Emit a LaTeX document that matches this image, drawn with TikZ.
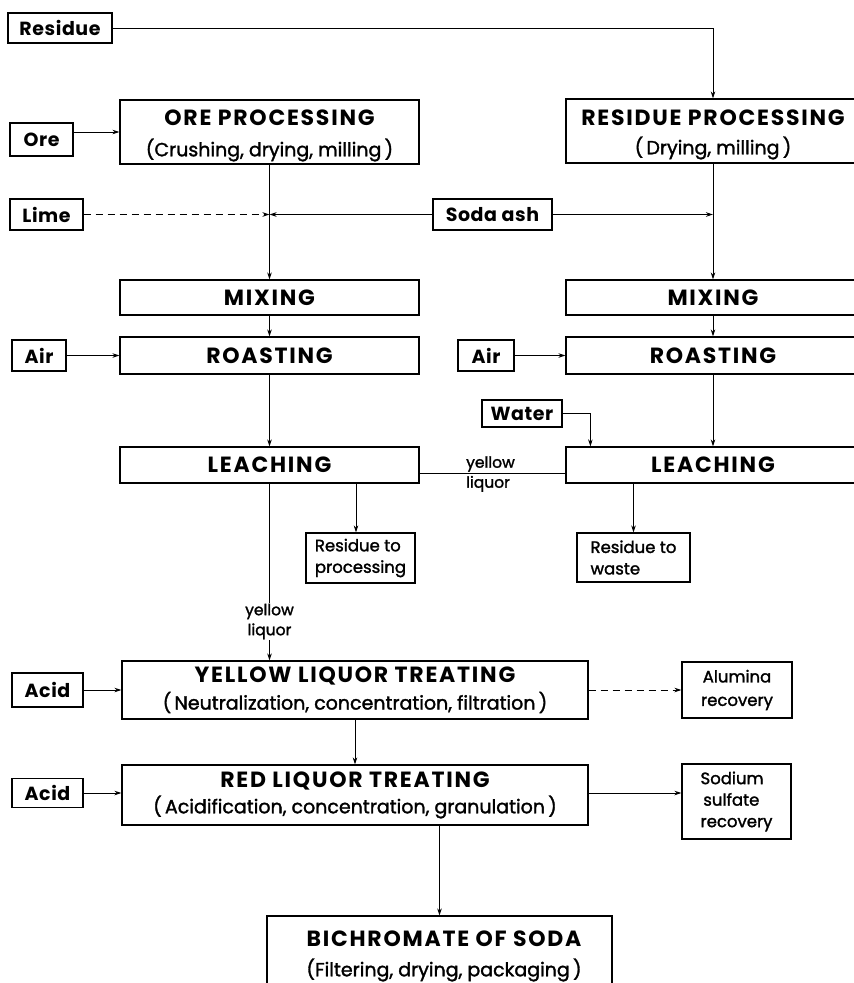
\documentclass[tikz,border=0pt]{standalone}
\usepackage{fontspec}
\setmainfont{Poppins}
\newfontfamily\popmed[FakeBold=1.6]{Poppins}
\newfontfamily\popttl[LetterSpace=8]{Poppins}
\newfontfamily\poplab[LetterSpace=3]{Poppins}
\usetikzlibrary{arrows.meta}
\newcommand\ttl{\popttl\bfseries\fontsize{22}{26}\selectfont}
\newcommand\subt{\popmed\fontsize{19}{22}\selectfont}
\newcommand\lab{\poplab\bfseries\fontsize{19}{22}\selectfont}
\newcommand\sml{\popmed\fontsize{16.5}{21.5}\selectfont}
\newcommand\ylfont{\popmed\fontsize{15.5}{20}\selectfont}
\tikzset{
  box/.style={draw, line width=1.2pt, inner sep=0pt, align=center},
  arr/.style={-{Stealth[length=7pt,width=4.5pt]}, line width=1pt},
  dsh/.style={arr, dash pattern=on 7pt off 5pt},
  boxtext/.style={label={[font=\subt, align=center, yshift=-3.5pt]center:{#1}}},
}
\begin{document}
\begin{tikzpicture}[x=1pt,y=-1pt]
\useasboundingbox (0,0) rectangle (854,983);
% small input boxes
\node[box, font=\lab, minimum width=104pt, minimum height=30pt] (residue) at (60,28) {Residue};
\node[box, font=\lab, minimum width=63pt, minimum height=33pt] (ore) at (41.5,139.5) {Ore};
\node[box, font=\lab, minimum width=73pt, minimum height=31pt] (lime) at (46.5,214.5) {Lime};
\node[box, font=\lab, minimum width=119pt, minimum height=31pt] (soda) at (492.5,214.5) {Soda ash};
\node[box, font=\lab, minimum width=54pt, minimum height=31pt] (airL) at (39,355.5) {Air};
\node[box, font=\lab, minimum width=56pt, minimum height=31pt] (airR) at (486,355.5) {Air};
\node[box, font=\lab, minimum width=80pt, minimum height=27pt] (water) at (522,413.5) {Water};
\node[box, font=\lab, minimum width=71pt, minimum height=34pt] (acid1) at (47.5,690) {Acid};
\node[box, font=\lab, minimum width=71pt, minimum height=29pt] (acid2) at (47.5,793) {Acid};
% process boxes
\node[box, minimum width=299pt, minimum height=64pt,
  boxtext={{\ttl ORE PROCESSING}\\[9pt](Crushing, drying, milling\,)}] (orep) at (269.5,132) {};
\node[box, minimum width=294pt, minimum height=64pt,
  boxtext={{\ttl RESIDUE PROCESSING}\\[7pt](\,Drying, milling\,)}] (resp) at (713,131) {};
\node[box, font=\ttl, minimum width=299pt, minimum height=35pt] (mixL) at (269.5,297.5) {MIXING};
\node[box, font=\ttl, minimum width=294pt, minimum height=35pt] (mixR) at (713,297.5) {MIXING};
\node[box, font=\ttl, minimum width=299pt, minimum height=37pt] (roastL) at (269.5,355.5) {ROASTING};
\node[box, font=\ttl, minimum width=294pt, minimum height=37pt] (roastR) at (713,355.5) {ROASTING};
\node[box, font=\ttl, minimum width=299pt, minimum height=36pt] (leachL) at (269.5,465) {LEACHING};
\node[box, font=\ttl, minimum width=294pt, minimum height=36pt] (leachR) at (713,465) {LEACHING};
\node[box, font=\sml, minimum width=109pt, minimum height=50pt, align=left] (rtp) at (360.5,558) {Residue to\\processing};
\node[box, font=\sml, minimum width=113pt, minimum height=49pt, align=left] (rtw) at (633.5,557.5) {Residue to\\waste};
\node[box, font=\subt, minimum width=466pt, minimum height=58pt] (ylt) at (355,690)
  {{\ttl YELLOW LIQUOR TREATING}\\[5pt](\,Neutralization, concentration, filtration\,)};
\node[box, font=\sml, minimum width=110pt, minimum height=56pt] (alum) at (737,690) {Alumina\\[2pt]recovery};
\node[box, font=\subt, minimum width=466pt, minimum height=60pt] (rlt) at (355,795)
  {{\ttl RED LIQUOR TREATING}\\[4pt](\,Acidification, concentration, granulation\,)};
\node[box, font=\sml, minimum width=109pt, minimum height=75pt, align=left] (sod) at (736.5,801.5) {Sodium\\\,sulfate\\recovery};
\node[box, minimum width=345pt, minimum height=94pt] (bich) at (439.5,963) {};
\node[font=\subt, align=center] (bicht) at (444,956) {{\ttl BICHROMATE OF SODA}\\[8pt](Filtering, drying, packaging\,)};
% connectors
\draw[arr] (residue.east) -| (resp.north);
\draw[arr] (ore.east |- orep.west) -- (orep.west);
\coordinate (jL) at (orep.south |- soda.west);
\draw[dsh] (lime.east) -- (jL);
\draw[arr] (soda.west) -- (jL);
\draw[arr] (soda.east) -- (soda.east -| resp.south);
\draw[arr] (orep.south) -- (mixL.north);
\draw[arr] (resp.south) -- (mixR.north);
\draw[arr] (mixL.south) -- (roastL.north);
\draw[arr] (mixR.south) -- (roastR.north);
\draw[arr] (airL.east) -- (airL.east -| roastL.west);
\draw[arr] (airR.east) -- (airR.east -| roastR.west);
\draw[arr] (roastL.south) -- (leachL.north);
\draw[arr] (roastR.south) -- (leachR.north);
\draw[arr] (water.east) -| ([xshift=25pt]leachR.north west);
\draw[line width=1pt] ([yshift=-8pt]leachL.east) -- ([yshift=-8pt]leachL.east -| leachR.west);
\node[font=\ylfont, align=left, inner sep=0pt, anchor=west] (ylab1) at (466,474) {yellow\\liquor};
\draw[arr] (leachL.south) -- (leachL.south |- ylt.north)
  node[pos=0.78, font=\ylfont, fill=white, inner sep=1pt, align=center] (ylab2) {yellow\\liquor};
\draw[arr] ([xshift=-4.5pt]rtp.north |- leachL.south) -- ([xshift=-4.5pt]rtp.north);
\draw[arr] (rtw.north |- leachR.south) -- (rtw.north);
\draw[arr] (acid1.east) -- (acid1.east -| ylt.west);
\draw[dsh] (ylt.east) -- (alum.west);
\draw[arr] (ylt.south) -- (rlt.north);
\draw[arr] (acid2.east) -- (acid2.east -| rlt.west);
\draw[arr] ([yshift=2pt]rlt.east) -- ([yshift=2pt]rlt.east -| sod.west);
\draw[arr] (bich.north |- rlt.south) -- (bich.north);
\end{tikzpicture}
\end{document}
